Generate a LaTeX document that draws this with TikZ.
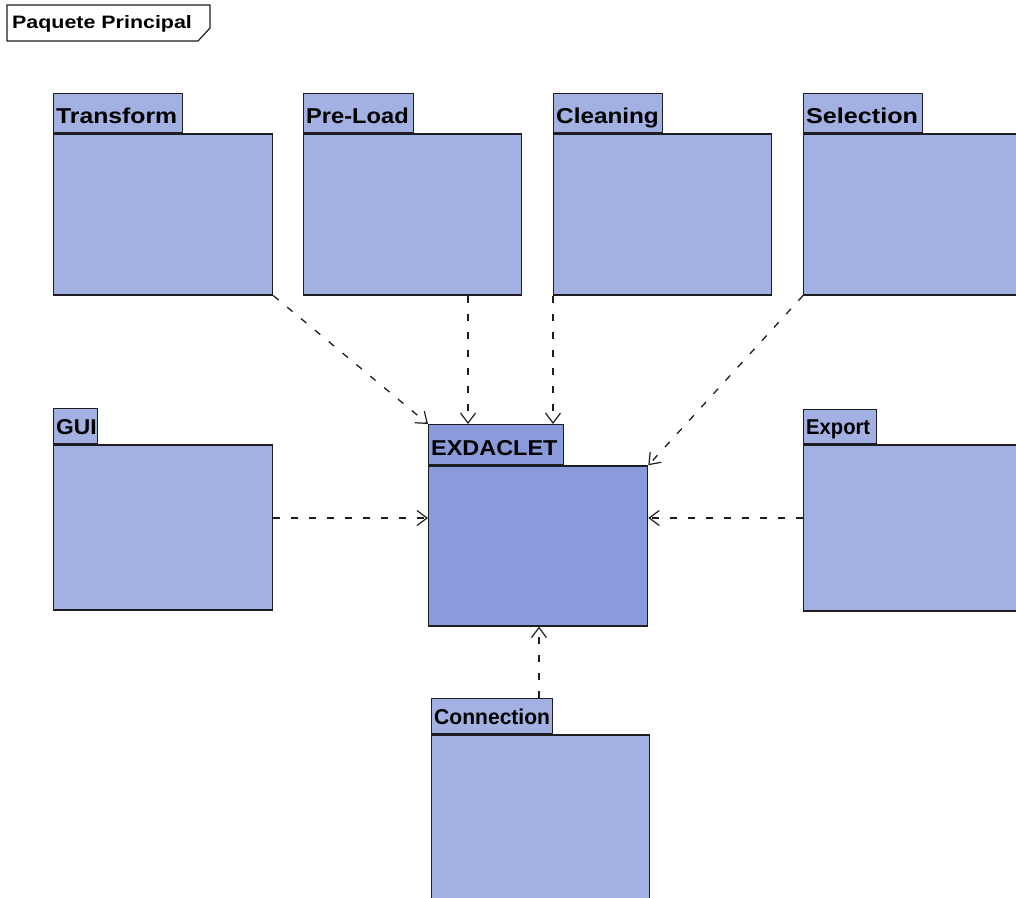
\documentclass[tikz,border=0pt]{standalone}
\usepackage{fontspec}
\usepackage{graphicx}
\usetikzlibrary{arrows.meta}
\newfontfamily\pkgfont{Liberation Sans}
\definecolor{pkfill}{RGB}{163,176,226}
\definecolor{pkmain}{RGB}{138,155,219}
\definecolor{edge}{RGB}{30,30,34}
\tikzset{
  pktab/.style={draw=edge, fill=pkfill, line width=1.3pt, inner sep=0pt, anchor=north west},
  pkbody/.style={draw=edge, fill=pkfill, line width=1.3pt, inner sep=0pt, anchor=north west},
  pklabel/.style={anchor=base west, inner sep=0pt, text=black,
    font=\pkgfont\bfseries\fontsize{21.5}{21.5}\selectfont},
  mainpkg/.style={fill=pkmain},
  dep/.style={draw=edge, line width=1.3pt, dash pattern=on 7pt off 11pt,
    -{Straight Barb[length=10pt, width=15pt, line width=1.2pt]}},
}
% #1 extra style, #2 name, #3 x, #4 y (top of tab), #5 tab width, #6 tab height,
% #7 body width, #8 body height, #9 label
\newcommand\umlpackage[9][]{%
  \node[pktab, #1, minimum width=#5pt, minimum height=#6pt] (#2t) at (#3,#4) {};
  \node[pkbody, #1, minimum width=#7pt, minimum height=#8pt] (#2) at (#2t.south west) {};
  \node[pklabel] (#2l) at ([xshift=3pt,yshift=10pt]#2t.south west) {#9};
}
\begin{document}
\begin{tikzpicture}[x=1pt, y=-1pt]
  \useasboundingbox (0,0) rectangle (1016,897);
  \clip (0,0) rectangle (1016,897);
  \fill[white] (0,0) rectangle (1016,897);

  % frame title
  \draw[edge, line width=1.2pt] (7,5) -- (210,5) -- (210,28) -- (198,41) -- (7,41) -- cycle;
  \node[anchor=base west, inner sep=0pt, font=\pkgfont\bfseries\fontsize{18}{18}\selectfont]
    (title) at (12,28) {\scalebox{1.19}[1]{Paquete Principal}};

  % packages
  \umlpackage{tr}{53}{93}{129}{39}{219}{161}{\scalebox{1.15}[1]{Transform}}
  \umlpackage{pl}{303}{93}{110}{39}{218}{161}{\scalebox{1.1}[1]{Pre-Load}}
  \umlpackage{cl}{553}{93}{109}{39}{218}{161}{\scalebox{1.13}[1]{Cleaning}}
  \umlpackage{se}{803}{93}{119}{39}{240}{161}{\scalebox{1.17}[1]{Selection}}
  \umlpackage{gui}{53}{408}{44}{35}{219}{165}{\scalebox{1.06}[1]{GUI}}
  \umlpackage{ex}{803}{409}{73}{34}{240}{166}{\scalebox{0.94}[1]{Export}}
  \umlpackage[mainpkg]{exd}{428}{424}{135}{40}{219}{160}{\scalebox{1.09}[1]{EXDACLET}}
  \umlpackage{cn}{431}{698}{121}{35}{218}{200}{\scalebox{0.98}[1]{Connection}}

  % guide coordinates for straight connectors
  \coordinate (vp) at (468,0);
  \coordinate (vc) at (539,0);
  \coordinate (hl) at (0,518);

  % dependencies
  \draw[dep] (tr.south east) -- (exdt.north west);
  \draw[dep] (pl.south -| vp) -- (exdt.north -| vp);
  \draw[dep] (cl.south west) -- (cl.south west |- exdt.north);
  \draw[dep] (se.south west) -- (exd.north east);
  \draw[dep] (gui.east |- hl) -- (exd.west |- hl);
  \draw[dep] (ex.west |- hl) -- (exd.east |- hl);
  \draw[dep] (cnt.north -| vc) -- (exd.south -| vc);
\end{tikzpicture}
\end{document}
